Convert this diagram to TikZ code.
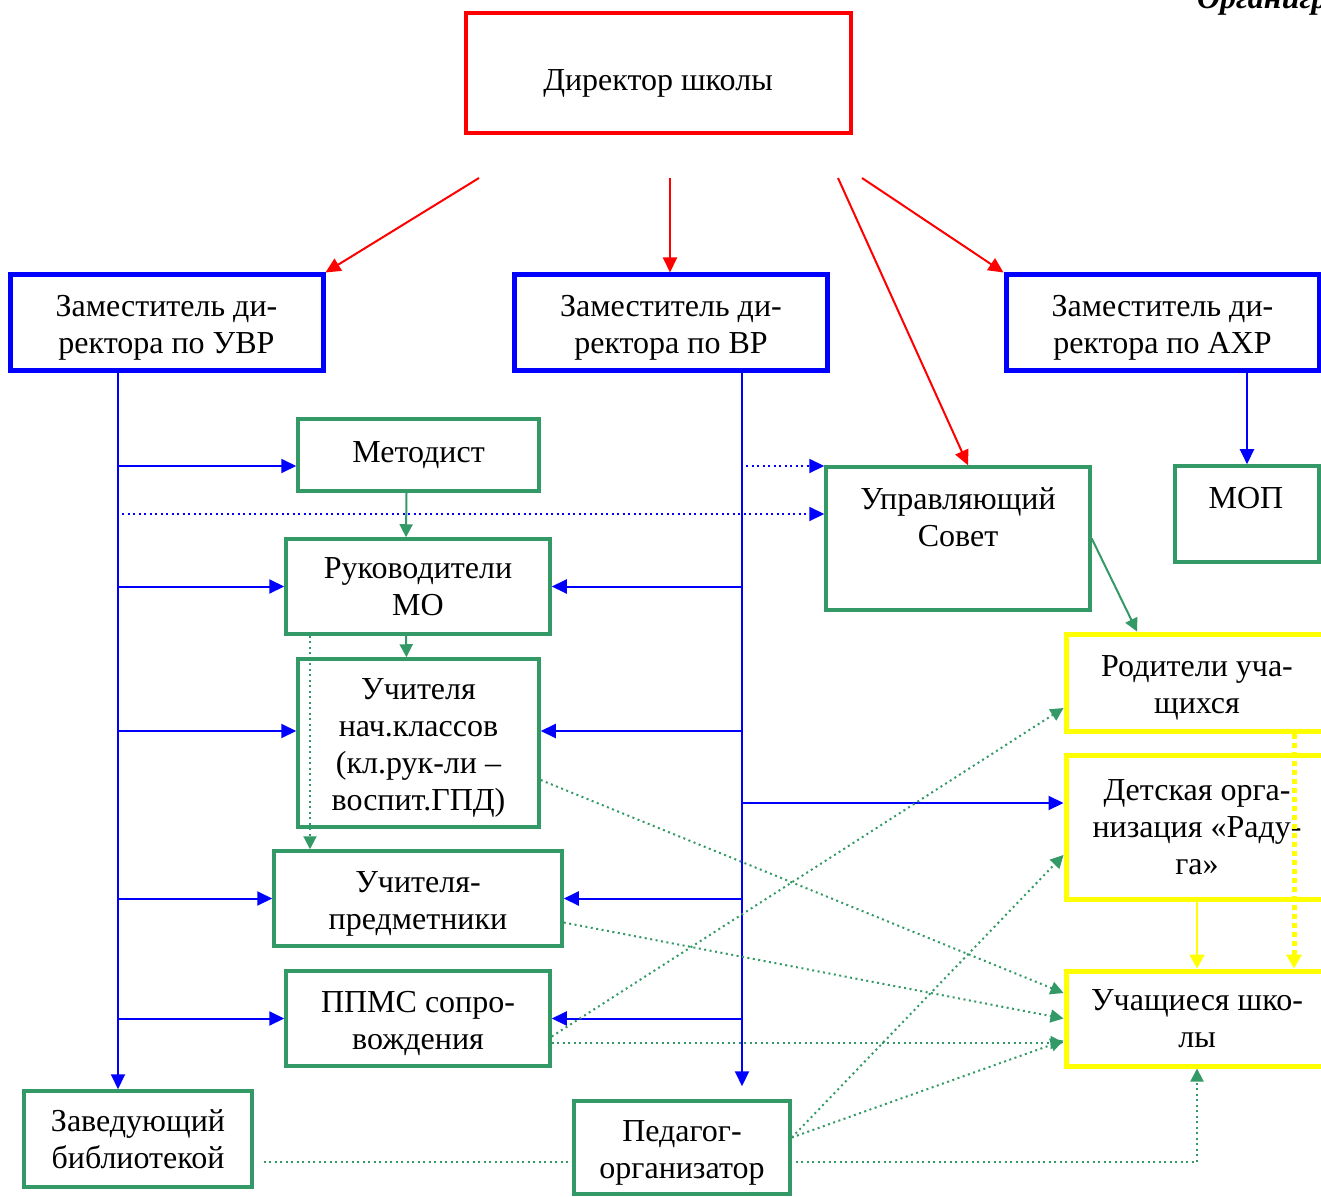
\documentclass[tikz,border=0pt]{standalone}
\usepackage{fontspec}
\setmainfont{Liberation Serif}
\usepackage{xcolor}
\usepackage{tikz}
\usetikzlibrary{arrows.meta}
\usetikzlibrary{calc}

\definecolor{vertOrg}{RGB}{51,153,102}
\definecolor{jauneOrg}{RGB}{255,255,0}
\newcommand{\haut}{\rule{0pt}{15.5pt}}

\begin{document}
\begin{tikzpicture}[x=0.5pt, y=-0.5pt,
  every node/.style={font=\fontsize{16}{18.4}\selectfont},
  box/.style={draw, align=center, inner sep=0pt},
  dirbox/.style={draw=red, line width=2pt},
  zambox/.style={box, draw=blue, line width=2.5pt, minimum width=156.5pt, minimum height=48pt},
  orgbox/.style={box, draw=vertOrg, line width=1.75pt},
  elevbox/.style={box, draw=jauneOrg, line width=2.5pt, minimum width=131pt},
  redarrow/.style={red, line width=1pt, -{Triangle[length=7.5pt, width=7pt]}},
  bluearrow/.style={blue, line width=1pt, -{Triangle[length=7.5pt, width=7pt]}},
  bluedots/.style={bluearrow, dash pattern=on 1pt off 1.75pt},
  greenarrow/.style={vertOrg, line width=1pt, -{Triangle[length=6.5pt, width=6.5pt]}},
  greendots/.style={greenarrow, dash pattern=on 1pt off 1.75pt},
  yellowarrow/.style={jauneOrg, line width=1.25pt, -{Triangle[length=7pt, width=7.5pt]}},
  yellowdots/.style={yellowarrow, line width=2.5pt, dash pattern=on 2.5pt off 2pt}]

  \useasboundingbox (0,0) rectangle (1321,1197);

  \node[anchor=base west, font=\fontsize{16}{18}\selectfont\bfseries\itshape] (titre) at (1190,9) {Органиграмма};

  % direction
  \node[dirbox, minimum width=192.5pt, minimum height=60pt] (dir) at (658.5,73) {};
  \node (dirtxt) at (658,83) {Директор школы};
  \node[zambox] (uvr) at (166.5,323) {\haut Заместитель ди-\\ректора по УВР};
  \node[zambox] (vr) at (671,323) {\haut Заместитель ди-\\ректора по ВР};
  \node[zambox] (ahr) at (1162.5,323) {\haut Заместитель ди-\\ректора по АХР};

  % colonne du milieu
  \node[orgbox, minimum width=120.5pt, minimum height=36pt] (metod) at (418.5,455) {Методист};
  \node[orgbox, minimum width=132pt, minimum height=47.5pt] (rukmo) at (418,586.5) {Руководители\\МО};
  \node[orgbox, minimum width=120.5pt, minimum height=84pt] (uchnach) at (418.5,743) {\haut Учителя\\нач.классов\\(кл.рук-ли –\\воспит.ГПД)};
  \node[orgbox, minimum width=144pt, minimum height=47.5pt] (uchpred) at (418,898.5) {\haut Учителя-\\предметники};
  \node[orgbox, minimum width=132pt, minimum height=47.5pt] (ppms) at (418,1018.5) {\haut ППМС сопро-\\вождения};
  \node[orgbox, minimum width=114pt, minimum height=48pt] (bibl) at (138,1139) {Заведующий\\библиотекой};
  \node[orgbox, minimum width=108pt, minimum height=46.5pt] (pedorg) at (682,1147.5) {\haut Педагог-\\организатор};

  % droite
  \node[orgbox, minimum width=132pt, minimum height=71.5pt] (sovet) at (958,538.5) {};
  \node[align=center] (sovettxt) at (958,517) {Управляющий\\Совет};
  \node[orgbox, minimum width=72pt, minimum height=48pt] (mop) at (1247,514) {};
  \node (moptxt) at (1246,498) {МОП};
  \node[elevbox, minimum height=48.5pt] (rodit) at (1197,682.5) {\haut Родители уча-\\щихся};
  \node[elevbox, minimum height=72pt] (detsk) at (1197,827) {Детская орга-\\низация «Раду-\\га»};
  \node[elevbox, minimum height=47.5pt] (uchasch) at (1197,1018.5) {Учащиеся шко-\\лы};

  % fleches rouges
  \coordinate (r1) at (479,178);
  \coordinate (r2) at (670,178);
  \coordinate (r3) at (838,178);
  \coordinate (r4) at (862,178);
  \draw[redarrow] (r1) -- (uvr.north east);
  \draw[redarrow] (r2) -- (r2 |- vr.north);
  \draw[redarrow] (r3) -- ([xshift=5pt]sovet.north);
  \draw[redarrow] (r4) -- (ahr.north west);

  % lignes bleues
  \coordinate (uvrT) at ([xshift=-24.25pt]uvr.south);
  \coordinate (vrT) at ([xshift=35.5pt]vr.south);
  \coordinate (ahrT) at (ahr.south -| mop.north);
  \draw[bluearrow] (uvrT) -- (uvrT |- bibl.north);
  \draw[bluearrow] (vrT) -- ($(pedorg.north -| vrT)+(0,-13)$);
  \draw[bluearrow] (ahrT) -- (mop.north);

  \coordinate (metIn) at ([yshift=-5.5pt]metod.west);
  \coordinate (nachIn) at ([yshift=6pt]uchnach.west);
  \coordinate (nachOut) at ([yshift=6pt]uchnach.east);
  \draw[bluearrow] (metIn -| uvrT) -- (metIn);
  \draw[bluearrow] (nachIn -| uvrT) -- (nachIn);
  \draw[bluearrow] (vrT |- nachOut) -- (nachOut);
  \foreach \n in {rukmo, uchpred, ppms} {
    \draw[bluearrow] (uvrT |- \n.west) -- (\n.west);
    \draw[bluearrow] (vrT |- \n.east) -- (\n.east);
  }
  \coordinate (detIn) at ([yshift=12pt]detsk.west);
  \draw[bluearrow] (vrT |- detIn) -- (detIn);

  \coordinate (sovIn1) at ([yshift=36.25pt]sovet.west);
  \coordinate (sovIn2) at ([yshift=12.25pt]sovet.west);
  \draw[bluedots, shorten <=2pt] (vrT |- sovIn1) -- (sovIn1);
  \draw[bluedots, shorten <=2pt] (uvrT |- sovIn2) -- (sovIn2);

  % lignes vertes
  \draw[greenarrow] ([xshift=-6pt]metod.south) -- ([xshift=-6pt]rukmo.north);
  \draw[greenarrow] ([xshift=-6pt]rukmo.south) -- ([xshift=-6pt]uchnach.north);
  \draw[greenarrow] (sovet.east) -- ([xshift=-30pt]rodit.north);

  \draw[greendots] ([xshift=-54pt]rukmo.south) -- ([xshift=-54pt]rukmo.south |- uchpred.north);
  \draw[greendots] ([yshift=-18.5pt]uchnach.east) -- ([yshift=12.75pt]uchasch.west);
  \draw[greendots] ([yshift=-12pt]uchpred.east) -- (uchasch.west);
  \draw[greendots] ([yshift=-12pt]ppms.east) -- ([yshift=-12pt]uchasch.west);
  \draw[greendots] ([yshift=-9pt]ppms.east) -- ([yshift=-12.75pt]rodit.west);
  \draw[greendots] ([yshift=5pt]pedorg.east) -- ([yshift=-14pt]detsk.west);
  \draw[greendots] ([yshift=5pt]pedorg.east) -- ([yshift=-11pt]uchasch.west);

  \coordinate (bibLine) at ([yshift=-11.5pt]bibl.east);
  \draw[greendots, -] ([xshift=5pt]bibLine) -- (bibLine -| pedorg.west);
  \draw[greendots, shorten <=2pt] (bibLine -| pedorg.east) -| (uchasch.south);

  % lignes jaunes
  \draw[yellowarrow] (detsk.south) -- (uchasch.north);
  \draw[yellowdots] ([xshift=48.5pt]rodit.south) -- ([xshift=48.5pt]uchasch.north);

\end{tikzpicture}
\end{document}
